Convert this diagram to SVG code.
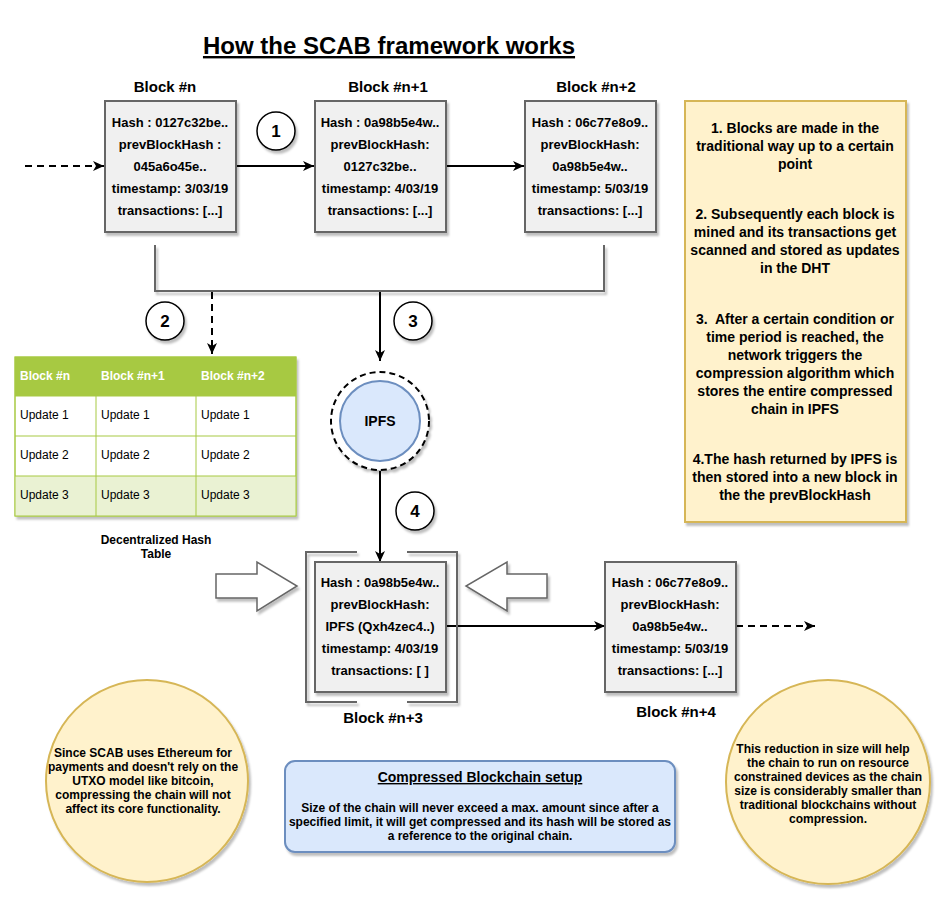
<svg xmlns="http://www.w3.org/2000/svg" width="949" height="905" viewBox="0 0 949 905">
<style>
text{font-family:"Liberation Sans",Arial,sans-serif;fill:#000;}
.title{font-size:24px;font-weight:bold;text-decoration:underline;}
.lbl{font-size:15px;font-weight:bold;text-anchor:middle;}
.bt{font-size:13px;font-weight:bold;text-anchor:middle;}
.blk{fill:#f0f0f0;stroke:#666;stroke-width:2;}
.num{font-size:17px;font-weight:bold;text-anchor:middle;}
.numc{fill:#fff;stroke:#000;stroke-width:1.5;}
.tbh{font-size:12px;font-weight:bold;fill:#fff;}
.tbc{font-size:12px;}
.note{font-size:14px;font-weight:bold;text-anchor:middle;}
.sm{font-size:12px;font-weight:bold;text-anchor:middle;}
.con{fill:none;stroke:#000;stroke-width:2;}
.dash{stroke-dasharray:7 5;}
</style>
<defs>
<filter id="sh" x="-10%" y="-10%" width="130%" height="130%">
<feDropShadow dx="2" dy="3" stdDeviation="1.2" flood-color="#000" flood-opacity="0.25"/>
</filter>
<marker id="ar" markerWidth="12" markerHeight="12" refX="11" refY="6" orient="auto" markerUnits="userSpaceOnUse">
<path d="M0,1 L11,6 L0,11 L3,6 z" fill="#000"/>
</marker>
</defs>
<rect width="949" height="905" fill="#fff"/>
<text class="title" x="389" y="54" text-anchor="middle">How the SCAB framework works</text>

<g id="connectors">
<path class="con dash" d="M25,166 H104" marker-end="url(#ar)"/>
<path class="con" d="M236,166 H314" marker-end="url(#ar)"/>
<path class="con" d="M446,166 H524" marker-end="url(#ar)"/>
<path d="M155,245 V291 H604 V245" fill="none" stroke="#666" stroke-width="2" filter="url(#sh)"/>
<path class="con dash" d="M212,292 V354" marker-end="url(#ar)"/>
<path class="con" d="M380,292 V361" marker-end="url(#ar)"/>
<path class="con" d="M380,471 V562" marker-end="url(#ar)"/>
<path class="con" d="M446,626 H605" marker-end="url(#ar)"/>
<path class="con dash" d="M736,626 H815" marker-end="url(#ar)"/>
</g>

<g id="block-n">
<text class="lbl" x="165" y="92">Block #n</text>
<rect class="blk" x="105" y="101" width="131" height="131" filter="url(#sh)"/>
<text class="bt" x="170" y="127">Hash : 0127c32be..</text>
<text class="bt" x="170" y="149">prevBlockHash :</text>
<text class="bt" x="170" y="171">045a6o45e..</text>
<text class="bt" x="170" y="193">timestamp: 3/03/19</text>
<text class="bt" x="170" y="215">transactions: [...]</text>
</g>

<g id="block-n1">
<text class="lbl" x="388" y="92">Block #n+1</text>
<rect class="blk" x="315" y="101" width="131" height="131" filter="url(#sh)"/>
<text class="bt" x="380" y="127">Hash : 0a98b5e4w..</text>
<text class="bt" x="380" y="149">prevBlockHash:</text>
<text class="bt" x="380" y="171">0127c32be..</text>
<text class="bt" x="380" y="193">timestamp: 4/03/19</text>
<text class="bt" x="380" y="215">transactions: [...]</text>
</g>

<g id="block-n2">
<text class="lbl" x="596" y="92">Block #n+2</text>
<rect class="blk" x="525" y="101" width="131" height="131" filter="url(#sh)"/>
<text class="bt" x="590" y="127">Hash : 06c77e8o9..</text>
<text class="bt" x="590" y="149">prevBlockHash:</text>
<text class="bt" x="590" y="171">0a98b5e4w..</text>
<text class="bt" x="590" y="193">timestamp: 5/03/19</text>
<text class="bt" x="590" y="215">transactions: [...]</text>
</g>

<g id="step1"><circle class="numc" cx="276" cy="131" r="19" filter="url(#sh)"/><text class="num" x="276" y="137">1</text></g>
<g id="step2"><circle class="numc" cx="165" cy="321" r="19" filter="url(#sh)"/><text class="num" x="165" y="327">2</text></g>
<g id="step3"><circle class="numc" cx="413" cy="321" r="19" filter="url(#sh)"/><text class="num" x="413" y="327">3</text></g>
<g id="step4"><circle class="numc" cx="415" cy="511" r="19" filter="url(#sh)"/><text class="num" x="415" y="517">4</text></g>

<g id="dht-table">
<g filter="url(#sh)">
<rect x="15" y="357" width="281" height="159" fill="#fff" stroke="#a7c942" stroke-width="1"/>
</g>
<rect x="15" y="357" width="281" height="39" fill="#a7c942"/>
<rect x="15" y="476" width="281" height="40" fill="#eaf2d3"/>
<g stroke="#a7c942" stroke-width="1" fill="none">
<rect x="15" y="357" width="281" height="159"/>
<path d="M15,396 H296 M15,436 H296 M15,476 H296 M96,357 V516 M196,357 V516"/>
</g>
<text class="tbh" x="20" y="380">Block #n</text>
<text class="tbh" x="101" y="380">Block #n+1</text>
<text class="tbh" x="201" y="380">Block #n+2</text>
<text class="tbc" x="20" y="419">Update 1</text>
<text class="tbc" x="101" y="419">Update 1</text>
<text class="tbc" x="201" y="419">Update 1</text>
<text class="tbc" x="20" y="459">Update 2</text>
<text class="tbc" x="101" y="459">Update 2</text>
<text class="tbc" x="201" y="459">Update 2</text>
<text class="tbc" x="20" y="499">Update 3</text>
<text class="tbc" x="101" y="499">Update 3</text>
<text class="tbc" x="201" y="499">Update 3</text>
<text class="sm" x="156" y="544">Decentralized Hash</text>
<text class="sm" x="156" y="558">Table</text>
</g>

<g id="ipfs">
<circle cx="380" cy="421" r="49" fill="#fff" stroke="#000" stroke-width="2" stroke-dasharray="6 4" filter="url(#sh)"/>
<circle cx="380" cy="421" r="40" fill="#dae8fc" stroke="#6c8ebf" stroke-width="2"/>
<text x="380" y="426" font-size="14" font-weight="bold" text-anchor="middle">IPFS</text>
</g>

<g id="block-n3">
<path d="M357,552 H306 V702 H357 M407,552 H457 V702 H407" fill="none" stroke="#666" stroke-width="2" filter="url(#sh)"/>
<rect class="blk" x="315" y="562" width="131" height="130" filter="url(#sh)"/>
<text class="bt" x="380" y="587">Hash : 0a98b5e4w..</text>
<text class="bt" x="380" y="609">prevBlockHash:</text>
<text class="bt" x="380" y="631">IPFS (Qxh4zec4..)</text>
<text class="bt" x="380" y="653">timestamp: 4/03/19</text>
<text class="bt" x="380" y="675">transactions: [ ]</text>
<text class="lbl" x="383" y="723">Block #n+3</text>
</g>

<g id="arrow-left">
<polygon points="216,574 257,574 257,562 297,586 257,611 257,598 216,598" fill="#fff" stroke="#666" stroke-width="1.5" filter="url(#sh)"/>
</g>
<g id="arrow-right">
<polygon points="547,574 507,574 507,562 466,586 507,611 507,598 547,598" fill="#fff" stroke="#666" stroke-width="1.5" filter="url(#sh)"/>
</g>

<g id="block-n4">
<rect class="blk" x="605" y="562" width="131" height="130" filter="url(#sh)"/>
<text class="bt" x="670" y="587">Hash : 06c77e8o9..</text>
<text class="bt" x="670" y="609">prevBlockHash:</text>
<text class="bt" x="670" y="631">0a98b5e4w..</text>
<text class="bt" x="670" y="653">timestamp: 5/03/19</text>
<text class="bt" x="670" y="675">transactions: [...]</text>
<text class="lbl" x="676" y="717">Block #n+4</text>
</g>

<g id="steps-note">
<rect x="685" y="101" width="221" height="421" fill="#fff2cc" stroke="#d6b656" stroke-width="2" filter="url(#sh)"/>
<text class="note" x="795" y="133">1. Blocks are made in the</text>
<text class="note" x="795" y="151">traditional way up to a certain</text>
<text class="note" x="795" y="169">point</text>
<text class="note" x="795" y="219">2. Subsequently each block is</text>
<text class="note" x="795" y="237">mined and its transactions get</text>
<text class="note" x="795" y="255">scanned and stored as updates</text>
<text class="note" x="795" y="273">in the DHT</text>
<text class="note" x="795" y="324" xml:space="preserve">3.  After a certain condition or</text>
<text class="note" x="795" y="342">time period is reached, the</text>
<text class="note" x="795" y="360">network triggers the</text>
<text class="note" x="795" y="378">compression algorithm which</text>
<text class="note" x="795" y="396">stores the entire compressed</text>
<text class="note" x="795" y="414">chain in IPFS</text>
<text class="note" x="795" y="464">4.The hash returned by IPFS is</text>
<text class="note" x="795" y="482">then stored into a new block in</text>
<text class="note" x="795" y="500">the the prevBlockHash</text>
</g>

<g id="ethereum-note">
<ellipse cx="147" cy="781" rx="101" ry="101" fill="#fff2cc" stroke="#d6b656" stroke-width="2" filter="url(#sh)"/>
<text class="sm" x="143" y="757">Since SCAB uses Ethereum for</text>
<text class="sm" x="143" y="771">payments and doesn't rely on the</text>
<text class="sm" x="143" y="785">UTXO model like bitcoin,</text>
<text class="sm" x="143" y="799">compressing the chain will not</text>
<text class="sm" x="143" y="813">affect its core functionality.</text>
</g>

<g id="setup-note">
<rect x="285" y="761" width="390" height="91" rx="10" ry="10" fill="#dae8fc" stroke="#6c8ebf" stroke-width="2" filter="url(#sh)"/>
<text x="480" y="782" font-size="14" font-weight="bold" text-anchor="middle" text-decoration="underline">Compressed Blockchain setup</text>
<text class="sm" x="480" y="812">Size of the chain will never exceed a max. amount since after a</text>
<text class="sm" x="480" y="826">specified limit, it will get compressed and its hash will be stored as</text>
<text class="sm" x="480" y="840">a reference to the original chain.</text>
</g>

<g id="size-note">
<ellipse cx="828" cy="782" rx="102" ry="102" fill="#fff2cc" stroke="#d6b656" stroke-width="2" filter="url(#sh)"/>
<text class="sm" x="823" y="753">This reduction in size will help</text>
<text class="sm" x="828" y="767">the chain to run on resource</text>
<text class="sm" x="828" y="781">constrained devices as the chain</text>
<text class="sm" x="828" y="795">size is considerably smaller than</text>
<text class="sm" x="828" y="809">traditional blockchains without</text>
<text class="sm" x="828" y="823">compression.</text>
</g>
</svg>
